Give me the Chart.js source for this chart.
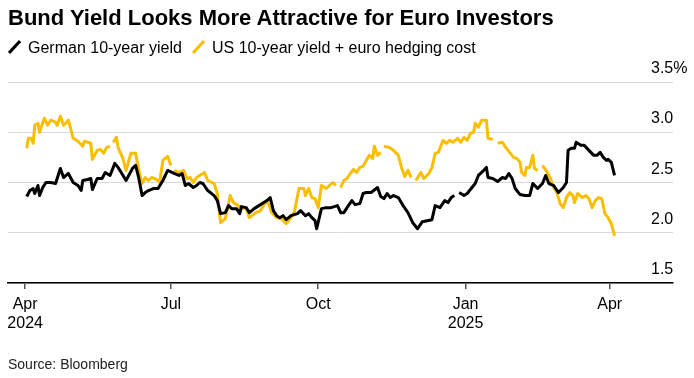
<!DOCTYPE html>
<html>
<head>
<meta charset="utf-8">
<script src="https://cdn.jsdelivr.net/npm/chart.js@4.4.1/dist/chart.umd.min.js"></script>
<style>
  html, body { margin: 0; padding: 0; background: #fff; }
  #wrap { position: relative; width: 694px; height: 378px; overflow: hidden; font-family: "Liberation Sans", Arial, sans-serif; color: #000; }
  #c { position: absolute; left: 0; top: 0; }
  .abs { position: absolute; white-space: nowrap; }
  #title { left: 8px; top: 7px; font-size: 22px; line-height: 22px; font-weight: bold; }
  .leg { top: 40px; font-size: 16px; line-height: 16px; }
  .sw { position: absolute; top: 40px; }
  #source { left: 8px; top: 357px; font-size: 14px; line-height: 14px; color: #222; }
</style>
</head>
<body>
<div id="wrap">
  <canvas id="c" width="694" height="378"></canvas>
  <div id="title" class="abs">Bund Yield Looks More Attractive for Euro Investors</div>
  <svg class="sw" style="left:8px" width="13" height="14"><line x1="1" y1="13" x2="12" y2="1" stroke="#000" stroke-width="3"/></svg>
  <div class="abs leg" style="left:28px">German 10-year yield</div>
  <svg class="sw" style="left:192px" width="13" height="14"><line x1="1" y1="13" x2="12" y2="1" stroke="#F9BE00" stroke-width="3"/></svg>
  <div class="abs leg" style="left:212px">US 10-year yield + euro hedging cost</div>
  <div id="source" class="abs">Source: Bloomberg</div>
</div>
<script>
// ---- Data ----
const gerDates = [
'2024-04-02','2024-04-04','2024-04-06','2024-04-07','2024-04-09','2024-04-10','2024-04-12','2024-04-14','2024-04-17','2024-04-20','2024-04-23','2024-04-25','2024-04-28',
'2024-05-01','2024-05-04','2024-05-06','2024-05-07','2024-05-10','2024-05-12','2024-05-13','2024-05-16','2024-05-19','2024-05-21','2024-05-24','2024-05-27','2024-05-29','2024-05-31',
'2024-06-03','2024-06-07','2024-06-09','2024-06-11','2024-06-13','2024-06-15','2024-06-17','2024-06-20','2024-06-23','2024-06-26','2024-06-29',
'2024-07-03','2024-07-06','2024-07-08','2024-07-10','2024-07-12','2024-07-15','2024-07-17','2024-07-19','2024-07-21','2024-07-24','2024-07-28','2024-07-30',
'2024-08-01','2024-08-04','2024-08-06','2024-08-08','2024-08-11','2024-08-13','2024-08-14','2024-08-17','2024-08-19','2024-08-22','2024-08-25','2024-08-28','2024-08-30',
'2024-09-01','2024-09-03','2024-09-05','2024-09-07','2024-09-09','2024-09-11','2024-09-14','2024-09-18','2024-09-20','2024-09-23','2024-09-25','2024-09-27','2024-09-29','2024-09-30',
'2024-10-03','2024-10-06','2024-10-09','2024-10-13','2024-10-15','2024-10-17','2024-10-19','2024-10-22','2024-10-24','2024-10-27','2024-10-29','2024-10-31',
'2024-11-03','2024-11-07','2024-11-09','2024-11-11','2024-11-13','2024-11-15','2024-11-17','2024-11-20','2024-11-23','2024-11-26','2024-11-29',
'2024-12-02','2024-12-05','2024-12-08','2024-12-11','2024-12-13','2024-12-16','2024-12-19','2024-12-21','2024-12-23','2024-12-25','2024-12-26','2024-12-28','2024-12-31',
'2025-01-02','2025-01-05','2025-01-07','2025-01-09','2025-01-11','2025-01-14','2025-01-15','2025-01-18','2025-01-21','2025-01-24','2025-01-26','2025-01-28','2025-01-30',
'2025-02-01','2025-02-04','2025-02-07','2025-02-10','2025-02-12','2025-02-15','2025-02-18','2025-02-20','2025-02-22','2025-02-25','2025-02-28',
'2025-03-03','2025-03-05','2025-03-06','2025-03-08','2025-03-10','2025-03-11','2025-03-14','2025-03-16','2025-03-19','2025-03-22','2025-03-24','2025-03-26','2025-03-28','2025-03-30','2025-03-31',
'2025-04-02','2025-04-04'
];
const gerYield = [
2.36,2.42,2.44,2.39,2.47,2.37,2.45,2.50,2.50,2.49,2.64,2.55,2.59,
2.50,2.47,2.42,2.52,2.53,2.54,2.43,2.54,2.54,2.60,2.57,2.69,2.65,2.60,
2.52,2.64,2.67,2.54,2.37,2.40,2.42,2.44,2.44,2.52,2.62,
2.59,2.57,2.59,2.47,2.49,2.45,2.47,2.50,2.49,2.42,2.37,2.32,
2.19,2.20,2.27,2.24,2.24,2.19,2.26,2.25,2.20,2.24,2.27,2.30,2.32,
2.35,2.22,2.17,2.15,2.17,2.13,2.17,2.19,2.22,2.17,2.19,2.15,2.12,2.04,
2.24,2.25,2.25,2.27,2.20,2.20,2.25,2.32,2.28,2.29,2.39,2.40,
2.40,2.45,2.36,2.34,2.39,2.35,2.37,2.35,2.27,2.20,2.10,
2.04,2.11,2.12,2.13,2.27,2.25,2.32,2.30,2.35,2.37,null,2.40,2.37,
2.39,2.45,2.49,2.57,2.60,2.65,2.55,2.54,2.51,2.55,2.54,2.59,2.54,
2.44,2.38,2.37,2.37,2.49,2.44,2.49,2.57,2.49,2.47,2.40,
2.45,2.50,2.82,2.84,2.84,2.90,2.87,2.87,2.82,2.77,2.77,2.80,2.75,2.72,2.73,
2.70,2.57
];

const usDates = [
'2024-04-02','2024-04-03','2024-04-05','2024-04-06','2024-04-07','2024-04-09','2024-04-10','2024-04-11','2024-04-13','2024-04-15','2024-04-17','2024-04-20','2024-04-21','2024-04-23','2024-04-25','2024-04-28',
'2024-05-01','2024-05-04','2024-05-07','2024-05-08','2024-05-12','2024-05-13','2024-05-16','2024-05-18','2024-05-20','2024-05-22','2024-05-24','2024-05-25','2024-05-26','2024-05-28','2024-05-29',
'2024-06-01','2024-06-03','2024-06-06','2024-06-09','2024-06-11','2024-06-13','2024-06-15','2024-06-17','2024-06-19','2024-06-22','2024-06-24','2024-06-26','2024-06-29',
'2024-07-01','2024-07-02','2024-07-03','2024-07-06','2024-07-09','2024-07-11','2024-07-13','2024-07-15','2024-07-17','2024-07-19','2024-07-22','2024-07-24','2024-07-28','2024-07-30',
'2024-08-01','2024-08-04','2024-08-07','2024-08-09','2024-08-12','2024-08-15','2024-08-17','2024-08-19','2024-08-23','2024-08-26','2024-08-29','2024-08-31',
'2024-09-02','2024-09-05','2024-09-08','2024-09-11','2024-09-13','2024-09-16','2024-09-19','2024-09-22','2024-09-23','2024-09-25','2024-09-27','2024-09-29',
'2024-10-01','2024-10-03','2024-10-06','2024-10-08','2024-10-10','2024-10-12','2024-10-13','2024-10-15','2024-10-17','2024-10-19','2024-10-21','2024-10-23','2024-10-25','2024-10-27','2024-10-29','2024-10-31',
'2024-11-02','2024-11-04','2024-11-05','2024-11-07','2024-11-09','2024-11-10','2024-11-11','2024-11-14','2024-11-17','2024-11-20','2024-11-22','2024-11-24','2024-11-26','2024-11-28','2024-11-29',
'2024-12-01','2024-12-04','2024-12-06','2024-12-09','2024-12-11','2024-12-13','2024-12-15','2024-12-18','2024-12-20','2024-12-22','2024-12-24','2024-12-27','2024-12-29','2024-12-31',
'2025-01-02','2025-01-04','2025-01-06','2025-01-07','2025-01-09','2025-01-11','2025-01-14','2025-01-15','2025-01-18','2025-01-20','2025-01-21','2025-01-24','2025-01-26','2025-01-29','2025-01-31',
'2025-02-02','2025-02-04','2025-02-05','2025-02-07','2025-02-08','2025-02-10','2025-02-12','2025-02-13','2025-02-15','2025-02-16','2025-02-18','2025-02-21','2025-02-23','2025-02-25','2025-02-27',
'2025-03-01','2025-03-03','2025-03-05','2025-03-07','2025-03-09','2025-03-10','2025-03-12','2025-03-15','2025-03-17','2025-03-19','2025-03-21','2025-03-23','2025-03-25','2025-03-27','2025-03-29','2025-03-31',
'2025-04-02','2025-04-04'
];
const usHedged = [
2.84,2.94,2.94,2.89,3.07,3.09,3.00,3.05,3.14,3.07,3.12,3.10,3.07,3.16,3.07,3.12,
2.94,2.91,2.86,2.91,2.89,2.73,2.82,2.83,2.79,2.85,2.86,null,2.90,2.95,2.85,
2.74,2.62,2.79,2.79,2.62,2.49,2.55,2.52,2.55,2.53,2.50,2.72,2.76,
2.67,null,2.62,2.60,2.62,2.54,2.55,2.50,2.55,2.57,2.60,2.52,2.49,2.39,
2.10,2.14,2.37,2.30,2.27,2.24,2.25,2.15,2.20,2.22,2.30,2.29,
2.20,2.15,2.14,2.09,2.13,2.20,2.44,2.44,2.37,2.44,2.35,2.34,
2.25,2.47,2.44,2.47,2.50,2.47,null,2.45,2.52,2.54,2.59,2.63,2.60,2.65,2.66,2.72,
2.77,2.74,2.86,2.77,2.80,null,2.86,2.85,2.82,2.77,2.65,2.56,2.62,2.55,null,
2.52,2.60,2.54,2.59,2.65,2.79,2.80,2.92,2.89,2.92,2.90,2.94,2.90,2.95,
2.92,2.99,3.00,3.09,3.05,3.12,3.12,2.94,2.93,null,2.89,2.90,2.85,2.79,2.75,
2.74,2.70,2.60,2.57,2.65,2.65,2.77,2.64,2.62,null,2.67,2.60,2.54,2.45,2.40,
2.29,2.25,2.35,2.40,2.37,2.30,2.39,2.35,2.37,2.34,2.25,2.32,2.35,2.34,2.19,2.15,
2.09,1.97
];

const seriesNames = ['German 10-year yield', 'US 10-year yield + euro hedging cost'];
const xTickDates = ['2024-04-01','2024-07-01','2024-10-01','2025-01-01','2025-04-01'];
const xTickLabels = [['Apr','2024'], 'Jul', 'Oct', ['Jan','2025'], 'Apr'];
const yTickValues = [1.5, 2.0, 2.5, 3.0, 3.5];
const yTickLabels = ['1.5', '2.0', '2.5', '3.0', '3.5%'];

// ---- helpers ----
const BASE = Date.UTC(2024, 3, 1);
function dayNum(s) {
  const p = s.split('-').map(Number);
  return (Date.UTC(p[0], p[1] - 1, p[2]) - BASE) / 86400000;
}
function toPoints(dates, vals) {
  return dates.map((d, i) => ({ x: dayNum(d), y: vals[i] }));
}

const FONT = '"Liberation Sans", Arial, sans-serif';

const yLabelPlugin = {
  id: 'yLabels',
  afterDraw(chart) {
    const { ctx, chartArea } = chart;
    const ys = chart.scales.y;
    ctx.save();
    ctx.font = '16px ' + FONT;
    ctx.fillStyle = '#000';
    ctx.textAlign = 'left';
    ctx.textBaseline = 'alphabetic';
    yTickValues.forEach((v, i) => {
      ctx.fillText(yTickLabels[i], chartArea.right - 22, ys.getPixelForValue(v) - 9);
    });
    ctx.restore();
  }
};

new Chart(document.getElementById('c'), {
  type: 'line',
  data: {
    datasets: [
      {
        label: seriesNames[0],
        data: toPoints(gerDates, gerYield),
        borderColor: '#000000',
        borderWidth: 3,
        pointRadius: 0,
        tension: 0,
        spanGaps: false,
        borderJoinStyle: 'round'
      },
      {
        label: seriesNames[1],
        data: toPoints(usDates, usHedged),
        borderColor: '#F9BE00',
        borderWidth: 3,
        pointRadius: 0,
        tension: 0,
        spanGaps: false,
        borderJoinStyle: 'round'
      }
    ]
  },
  options: {
    responsive: false,
    devicePixelRatio: 1,
    animation: false,
    layout: { padding: { left: 8, right: 21, top: 82, bottom: 38.6 } },
    plugins: {
      legend: { display: false },
      title: { display: false },
      tooltip: { enabled: false }
    },
    scales: {
      x: {
        type: 'linear',
        position: 'bottom',
        min: -10.7,
        max: 404.5,
        afterBuildTicks(scale) {
          scale.ticks = xTickDates.map(d => ({ value: dayNum(d) }));
        },
        ticks: {
          autoSkip: false,
          maxRotation: 0,
          padding: 6,
          color: '#000',
          font: { family: FONT, size: 16, lineHeight: 1.2 },
          callback: (value, index) => xTickLabels[index]
        },
        grid: {
          display: true,
          drawOnChartArea: false,
          drawTicks: true,
          tickLength: 6,
          tickColor: '#555',
          lineWidth: 1.5
        },
        border: { display: true, color: '#000', width: 1.5 }
      },
      y: {
        position: 'right',
        min: 1.5,
        max: 3.5,
        ticks: { display: false, stepSize: 0.5 },
        grid: { color: '#d9d9d9', lineWidth: 1, drawTicks: false },
        border: { display: false }
      }
    }
  },
  plugins: [yLabelPlugin]
});
</script>
</body>
</html>
